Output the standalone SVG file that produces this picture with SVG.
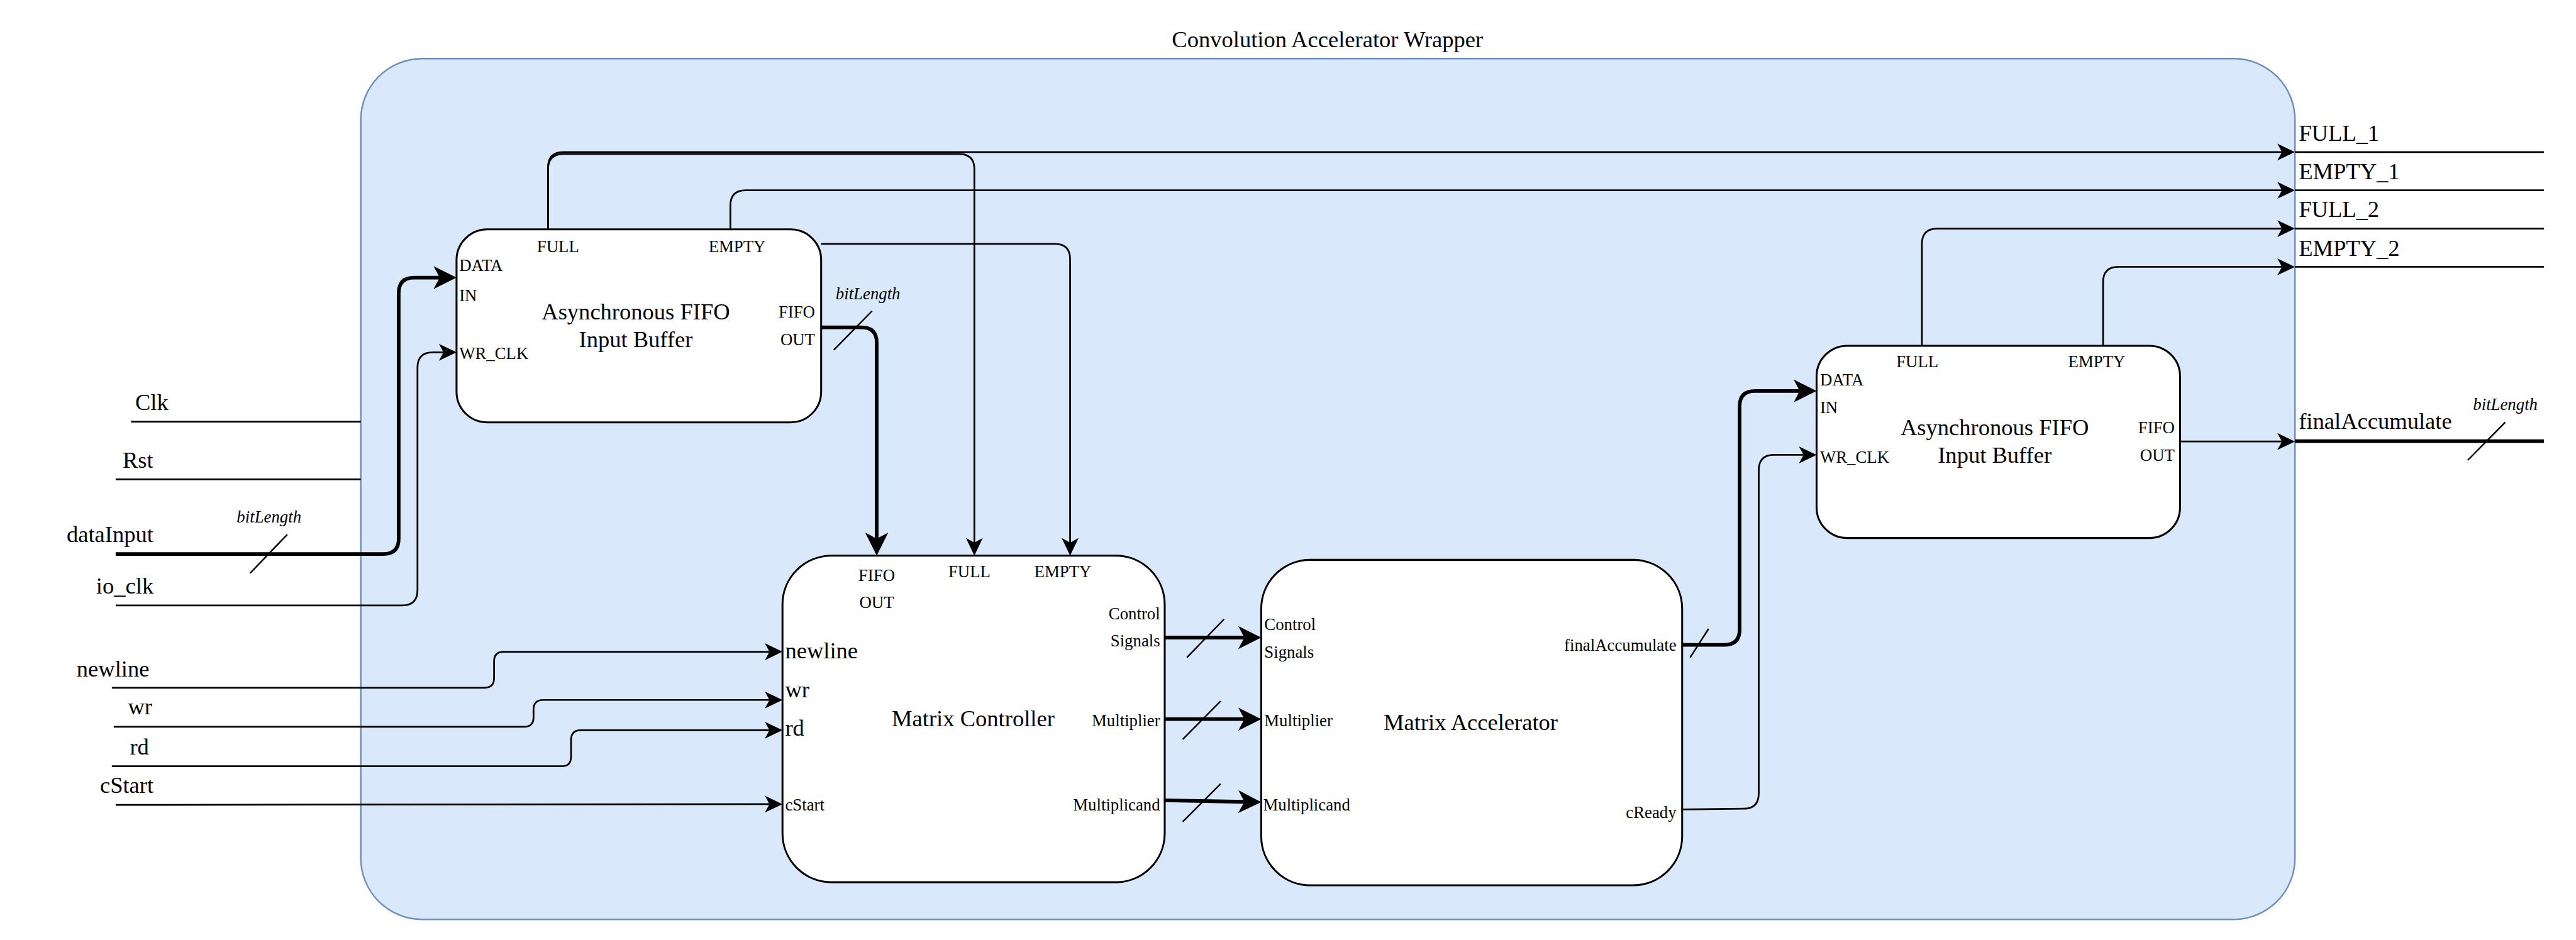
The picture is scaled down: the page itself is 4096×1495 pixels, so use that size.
<svg xmlns="http://www.w3.org/2000/svg" width="4096" height="1495" viewBox="0 0 4096 1495">
<style>
text{font-family:"Liberation Serif","Times New Roman",serif;fill:#000}
.t60{font-size:60px}
.t44{font-size:44px}
.it{font-style:italic}
.mid{text-anchor:middle}
.end{text-anchor:end}
.box{fill:#fff;stroke:#000;stroke-width:5}
.w{fill:none;stroke:#000;stroke-width:4.5}
.b{fill:none;stroke:#000;stroke-width:9.5}
.s{fill:none;stroke:#000;stroke-width:4}
</style>
<defs>
<marker id="an" markerUnits="userSpaceOnUse" markerWidth="50" markerHeight="46" refX="12" refY="22" orient="auto">
<path d="M0,0 L46,22 L0,44 L12,22 Z" fill="#000"/>
</marker>
<marker id="ab" markerUnits="userSpaceOnUse" markerWidth="64" markerHeight="62" refX="16" refY="30" orient="auto">
<path d="M0,0 L60,30 L0,60 L16,30 Z" fill="#000"/>
</marker>
</defs>
<rect width="4096" height="1495" fill="#fff"/>
<g transform="scale(0.609)">
<g id="wrapper">
<rect x="942" y="153" width="5050" height="2248" rx="160" fill="#dae8fc" stroke="#6c8ebf" stroke-width="4"/>
<text class="t60 mid" x="3466" y="123">Convolution Accelerator Wrapper</text>
</g>
<g id="fifo1">
<rect class="box" x="1192" y="599" width="952" height="504" rx="80"/>
<text class="t44" x="1402" y="658">FULL</text>
<text class="t44" x="1850" y="658">EMPTY</text>
<text class="t44" x="1199" y="708">DATA</text>
<text class="t44" x="1199" y="786">IN</text>
<text class="t44" x="1199" y="937">WR_CLK</text>
<text class="t44 end" x="2128" y="830">FIFO</text>
<text class="t44 end" x="2128" y="902">OUT</text>
<text class="t60 mid" x="1660" y="834">Asynchronous FIFO</text>
<text class="t60 mid" x="1660" y="906">Input Buffer</text>
</g>
<g id="fifo2">
<rect class="box" x="4743" y="903" width="949" height="502" rx="80"/>
<text class="t44" x="4951" y="959">FULL</text>
<text class="t44" x="5400" y="959">EMPTY</text>
<text class="t44" x="4752" y="1007">DATA</text>
<text class="t44" x="4752" y="1079">IN</text>
<text class="t44" x="4752" y="1208">WR_CLK</text>
<text class="t44 end" x="5678" y="1132">FIFO</text>
<text class="t44 end" x="5678" y="1204">OUT</text>
<text class="t60 mid" x="5208" y="1137">Asynchronous FIFO</text>
<text class="t60 mid" x="5208" y="1209">Input Buffer</text>
</g>
<g id="matrix-controller">
<rect class="box" x="2043" y="1451" width="998" height="853" rx="128"/>
<text class="t44 mid" x="2289" y="1517">FIFO</text>
<text class="t44 mid" x="2289" y="1588">OUT</text>
<text class="t44 mid" x="2531" y="1507">FULL</text>
<text class="t44 mid" x="2775" y="1507">EMPTY</text>
<text class="t60" x="2050" y="1720">newline</text>
<text class="t60" x="2050" y="1821">wr</text>
<text class="t60" x="2050" y="1922">rd</text>
<text class="t44" x="2050" y="2117">cStart</text>
<text class="t44 end" x="3029" y="1617">Control</text>
<text class="t44 end" x="3029" y="1688">Signals</text>
<text class="t44 end" x="3029" y="1897">Multiplier</text>
<text class="t44 end" x="3029" y="2116">Multiplicand</text>
<text class="t60 mid" x="2541" y="1896">Matrix Controller</text>
</g>
<g id="matrix-accelerator">
<rect class="box" x="3293" y="1462" width="1099" height="850" rx="128"/>
<text class="t44" x="3301" y="1646">Control</text>
<text class="t44" x="3301" y="1717">Signals</text>
<text class="t44" x="3301" y="1897">Multiplier</text>
<text class="t44" x="3298" y="2117">Multiplicand</text>
<text class="t60 mid" x="3840" y="1907">Matrix Accelerator</text>
<text class="t44 end" x="4377" y="1700">finalAccumulate</text>
<text class="t44 end" x="4377" y="2137">cReady</text>
</g>
<g id="io-labels">
<text class="t60" x="353" y="1071">Clk</text>
<text class="t60" x="320" y="1221">Rst</text>
<text class="t60" x="174" y="1416">dataInput</text>
<text class="t44 it" x="618" y="1365">bitLength</text>
<text class="t60" x="251" y="1550">io_clk</text>
<text class="t60" x="200" y="1767">newline</text>
<text class="t60" x="334" y="1866">wr</text>
<text class="t60" x="339" y="1971">rd</text>
<text class="t60" x="261" y="2070">cStart</text>
<text class="t60" x="6002" y="368">FULL_1</text>
<text class="t60" x="6002" y="468">EMPTY_1</text>
<text class="t60" x="6002" y="567">FULL_2</text>
<text class="t60" x="6002" y="668">EMPTY_2</text>
<text class="t60" x="6002" y="1120">finalAccumulate</text>
<text class="t44 it" x="6457" y="1071">bitLength</text>
<text class="t44 it" x="2182" y="781">bitLength</text>
</g>
<g id="connectors">
<path class="w" d="M342,1101 H942"/>
<path class="w" d="M302,1252 H942"/>
<path class="b" marker-end="url(#ab)" d="M302,1447 H1001 Q1041,1447 1041,1407 V765 Q1041,725 1081,725 H1148"/>
<path class="s" d="M750,1396 L653,1497"/>
<path class="w" marker-end="url(#an)" d="M302,1581 H1050 Q1090,1581 1090,1541 V960 Q1090,920 1130,920 H1158"/>
<path class="w" marker-end="url(#an)" d="M292,1796 H1265 Q1290,1796 1290,1771 V1727 Q1290,1702 1315,1702 H2009"/>
<path class="w" marker-end="url(#an)" d="M297,1898 H1368 Q1393,1898 1393,1873 V1853 Q1393,1828 1418,1828 H2009"/>
<path class="w" marker-end="url(#an)" d="M292,2001 H1466 Q1491,2001 1491,1976 V1932 Q1491,1907 1516,1907 H2009"/>
<path class="w" marker-end="url(#an)" d="M302,2102 L2009,2100"/>
<path class="w" marker-end="url(#an)" d="M1431,599 V437 Q1431,397 1471,397 H5958"/>
<path class="w" marker-end="url(#an)" d="M1431,599 V442 Q1431,402 1471,402 H2504 Q2544,402 2544,442 V1417"/>
<path class="w" marker-end="url(#an)" d="M1907,599 V537 Q1907,497 1947,497 H5958"/>
<path class="w" marker-end="url(#an)" d="M2144,637 H2754 Q2794,637 2794,677 V1417"/>
<path class="b" marker-end="url(#ab)" d="M2144,855 H2249 Q2289,855 2289,895 V1407"/>
<path class="s" d="M2277,812 L2177,914"/>
<path class="b" marker-end="url(#ab)" d="M3041,1665 H3249"/>
<path class="s" d="M3196,1617 L3099,1717"/>
<path class="b" marker-end="url(#ab)" d="M3041,1878 H3249"/>
<path class="s" d="M3187,1831 L3088,1931"/>
<path class="b" marker-end="url(#ab)" d="M3041,2090 L3249,2094"/>
<path class="s" d="M3187,2047 L3088,2146"/>
<path class="b" marker-end="url(#ab)" d="M4392,1684 H4502 Q4542,1684 4542,1644 V1061 Q4542,1021 4582,1021 H4699"/>
<path class="s" d="M4461,1642 L4413,1717"/>
<path class="w" marker-end="url(#an)" d="M4392,2114 L4552,2112 Q4592,2112 4592,2072 V1228 Q4592,1188 4632,1188 H4709"/>
<path class="w" marker-end="url(#an)" d="M5018,903 V637 Q5018,597 5058,597 H5958"/>
<path class="w" marker-end="url(#an)" d="M5491,903 V737 Q5491,697 5531,697 H5958"/>
<path class="w" marker-end="url(#an)" d="M5692,1153 H5958"/>
<path class="w" d="M5992,397 H6642"/>
<path class="w" d="M5992,497 H6642"/>
<path class="w" d="M5992,597 H6642"/>
<path class="w" d="M5992,697 H6642"/>
<path class="b" d="M5992,1152 H6642"/>
<path class="s" d="M6541,1103 L6443,1202"/>
</g>
</g>
</svg>
